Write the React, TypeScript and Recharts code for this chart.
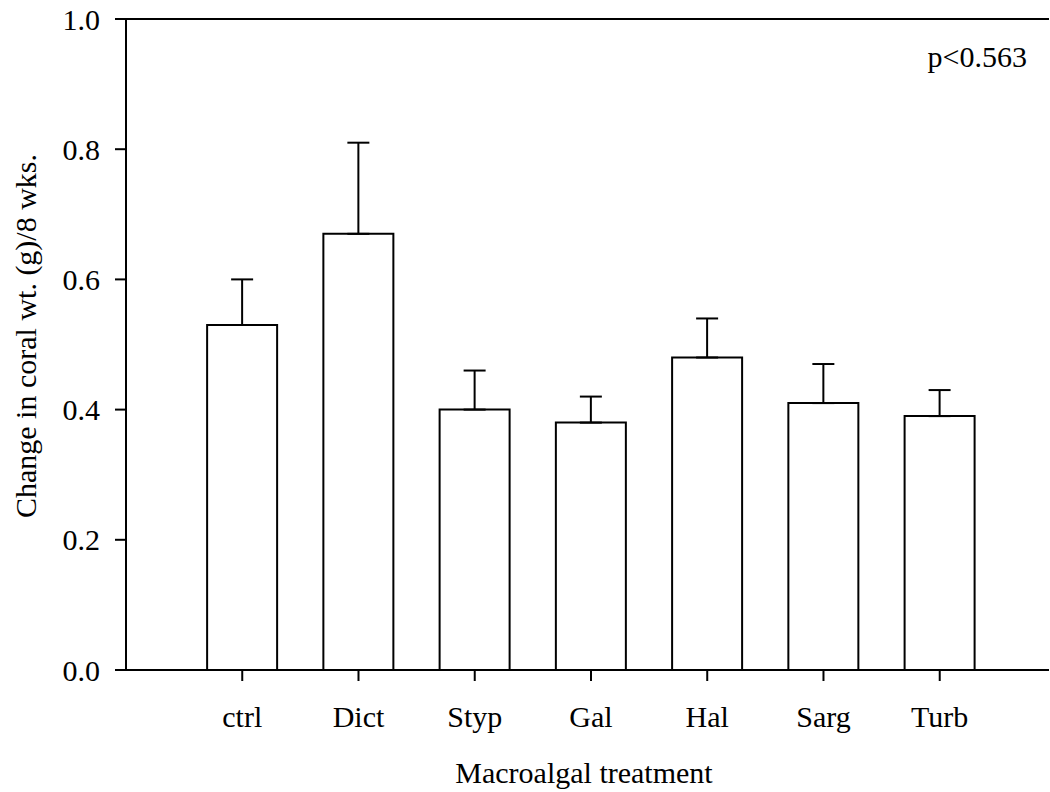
import React from "react";
import { BarChart, Bar, XAxis, YAxis, ErrorBar, ReferenceLine } from "recharts";

// Treatments in plotting order
const categories = ["ctrl", "Dict", "Styp", "Gal", "Hal", "Sarg", "Turb"];
// Mean change in coral weight (g) over 8 weeks
const means = [0.53, 0.67, 0.40, 0.38, 0.48, 0.41, 0.39];
// Standard errors (upper bars only)
const errors = [0.07, 0.14, 0.06, 0.04, 0.06, 0.06, 0.04];
const yTicks = [0, 0.2, 0.4, 0.6, 0.8, 1.0];
const xTicks = [1, 2, 3, 4, 5, 6, 7];
const pValueText = "p<0.563";

const data = categories.map((name, i) => ({
  pos: i + 1,
  name,
  mean: means[i],
  err: [0, errors[i]],
}));

const FONT = "'Liberation Serif', 'Times New Roman', serif";
const FS = 30;
const W = 1050;
const H = 792;
const LINE = { stroke: "#000", strokeWidth: 2 };

export default function App() {
  return (
    <div style={{ position: "absolute", left: 0, top: 0, width: W, height: H, background: "#fff" }}>
      <BarChart
        width={W}
        height={H}
        data={data}
        margin={{ top: 19, right: 1, bottom: 0, left: 0 }}
        barSize={70}
      >
        <XAxis
          dataKey="pos"
          type="number"
          domain={[0, 7.94]}
          ticks={xTicks}
          allowDataOverflow
          tickFormatter={(v: number) => categories[v - 1] ?? ""}
          height={122}
          tickSize={11}
          tickMargin={25}
          axisLine={LINE}
          tickLine={LINE}
          tick={{ fill: "#000", fontFamily: FONT, fontSize: FS }}
        />
        <YAxis
          type="number"
          domain={[0, 1]}
          ticks={yTicks}
          width={126}
          tickSize={11}
          tickMargin={15}
          tickFormatter={(v: number) => v.toFixed(1)}
          axisLine={LINE}
          tickLine={LINE}
          tick={{ fill: "#000", fontFamily: FONT, fontSize: FS }}
        />
        <ReferenceLine y={1} stroke="#000" strokeWidth={2} />
        <Bar dataKey="mean" fill="#fff" stroke="#000" strokeWidth={2} isAnimationActive={false}>
          <ErrorBar dataKey="err" direction="y" width={11} stroke="#000" strokeWidth={2} isAnimationActive={false} />
        </Bar>
      </BarChart>
      <svg
        width={W}
        height={H}
        style={{ position: "absolute", left: 0, top: 0, pointerEvents: "none" }}
      >
        <text
          x={36}
          y={336}
          transform="rotate(-90 36 336)"
          textAnchor="middle"
          fontFamily={FONT}
          fontSize={FS}
          fill="#000"
        >
          Change in coral wt. (g)/8 wks.
        </text>
        <text x={584} y={783} textAnchor="middle" fontFamily={FONT} fontSize={FS} fill="#000">
          Macroalgal treatment
        </text>
        <text x={1027} y={67} textAnchor="end" fontFamily={FONT} fontSize={FS} fill="#000">
          {pValueText}
        </text>
      </svg>
    </div>
  );
}
